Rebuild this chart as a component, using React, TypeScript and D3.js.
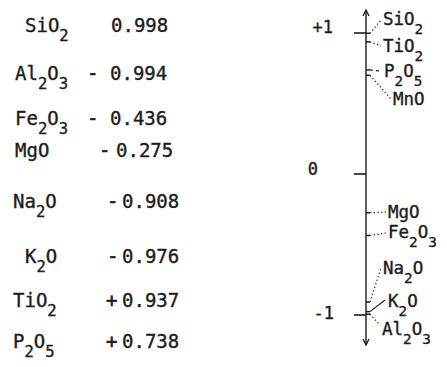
import React from "react";
import * as d3 from "d3";

// ---- data (table) ----
const tableOxides = ["SiO2", "Al2O3", "Fe2O3", "MgO", "Na2O", "K2O", "TiO2", "P2O5"];
const tableSigns = ["", "-", "-", "-", "-", "-", "+", "+"];
const tableValues = [0.998, -0.994, -0.436, -0.275, -0.908, -0.976, 0.937, 0.738];

// ---- data (scale diagram) ----
const chartOxides = ["SiO2", "TiO2", "P2O5", "MnO", "MgO", "Fe2O3", "Na2O", "K2O", "Al2O3"];
const chartValues = [0.998, 0.937, 0.738, 0.70, -0.275, -0.436, -0.908, -0.976, -0.994];
const leaderStyles = ["dot", "dot", "dash", "dot", "dot", "dot", "dot", "solid", "dot"];
const axisTicks = [1, 0, -1];
const axisTickLabels = ["+1", "0", "-1"];

// ---- layout (positions only) ----
const W = 447, H = 367;
const rowBaselines = [32, 80, 125, 157, 208, 263, 307, 348];
const rowFormulaX = [25, 15, 15, 15, 13, 25, 13, 13];
const rowSignX = [0, 87, 87, 99, 107, 107, 106, 106];
const rowValueX = [111, 110, 110, 116, 122, 122, 122, 122];
const labelPos: [number, number][] = [
  [383, 25], [383, 52], [384, 77], [393, 105], [388, 218], [388, 238], [383, 274], [388, 307], [382, 335],
];
const leaderEnd: [number, number][] = [
  [381, 20], [381, 46], [380, 71], [391, 99], [386, 212], [386, 233], [381, 268], [385, 300], [380, 325],
];
const tickLabelX = [333, 318, 334];
const tickLabelDy = [0, 1, 4];
const axisX = 366;

const FONT = "'DejaVu Sans Mono', monospace";
const INK = "#1c1c1c";

function parseFormula(s: string) {
  const segs: { t: string; sub: boolean }[] = [];
  for (const ch of s) {
    const sub = /[0-9]/.test(ch);
    const last = segs[segs.length - 1];
    if (last && last.sub === sub) last.t += ch;
    else segs.push({ t: ch, sub });
  }
  return segs;
}

function Formula({ x, y, s, size, subOff }: { x: number; y: number; s: string; size: number; subOff: number }) {
  const segs = parseFormula(s);
  let cur = 0;
  return (
    <text x={x} y={y} fontFamily={FONT} fontSize={size} fill={INK} stroke={INK} strokeWidth={0.35}>
      {segs.map((seg, i) => {
        const target = seg.sub ? subOff : 0;
        const dy = target - cur;
        cur = target;
        return (
          <tspan key={i} dy={dy} fontSize={seg.sub ? size * 0.82 : size}>
            {seg.t}
          </tspan>
        );
      })}
    </text>
  );
}

export default function App() {
  const y = d3.scaleLinear().domain([-1, 1]).range([315, 33]);
  const fmt = d3.format(".3f");
  const dash = (k: string) => (k === "dot" ? "1.3 2.4" : k === "dash" ? "3 3" : undefined);

  return (
    <svg
      width={W}
      height={H}
      style={{ position: "absolute", left: 0, top: 0, background: "#fff" }}
    >
      {/* table */}
      {tableOxides.map((ox, i) => (
        <g key={ox}>
          <Formula x={rowFormulaX[i]} y={rowBaselines[i]} s={ox} size={19} subOff={8.5} />
          {tableSigns[i] && (
            <text
              x={rowSignX[i]}
              y={rowBaselines[i]}
              fontFamily={FONT}
              fontSize={19}
              fill={INK}
              stroke={INK}
              strokeWidth={0.6}
            >
              {tableSigns[i]}
            </text>
          )}
          <text
            x={rowValueX[i]}
            y={rowBaselines[i]}
            fontFamily={FONT}
            fontSize={19}
            fill={INK}
            stroke={INK}
            strokeWidth={0.35}
          >
            {fmt(Math.abs(tableValues[i]))}
          </text>
        </g>
      ))}

      {/* axis */}
      <line x1={axisX} x2={axisX} y1={11} y2={345} stroke={INK} strokeWidth={1.4} />
      <path d={`M${axisX - 3},${16} L${axisX},${10} L${axisX + 3},${16}`} fill="none" stroke={INK} strokeWidth={1.3} />
      <path d={`M${axisX - 3},${339} L${axisX},${345} L${axisX + 3},${339}`} fill="none" stroke={INK} strokeWidth={1.3} />
      {axisTicks.map((t, i) => (
        <g key={t}>
          <line x1={354} x2={axisX} y1={y(t)} y2={y(t)} stroke={INK} strokeWidth={1.6} />
          <text
            x={tickLabelX[i]}
            y={y(t) + tickLabelDy[i]}
            textAnchor="end"
            fontFamily={FONT}
            fontSize={17}
            fill={INK}
            stroke={INK}
            strokeWidth={0.35}
          >
            {axisTickLabels[i]}
          </text>
        </g>
      ))}

      {/* markers and labels */}
      {chartOxides.map((ox, i) => {
        const yy = y(chartValues[i]);
        const [lx, ly] = labelPos[i];
        const [ex, ey] = leaderEnd[i];
        return (
          <g key={ox}>
            <line x1={axisX} x2={axisX + 4} y1={yy} y2={yy} stroke={INK} strokeWidth={1.5} />
            <line
              x1={axisX + 4}
              y1={yy}
              x2={ex}
              y2={ey}
              stroke={INK}
              strokeWidth={1.2}
              strokeDasharray={dash(leaderStyles[i])}
            />
            <Formula x={lx} y={ly} s={ox} size={17.5} subOff={9} />
          </g>
        );
      })}
    </svg>
  );
}
